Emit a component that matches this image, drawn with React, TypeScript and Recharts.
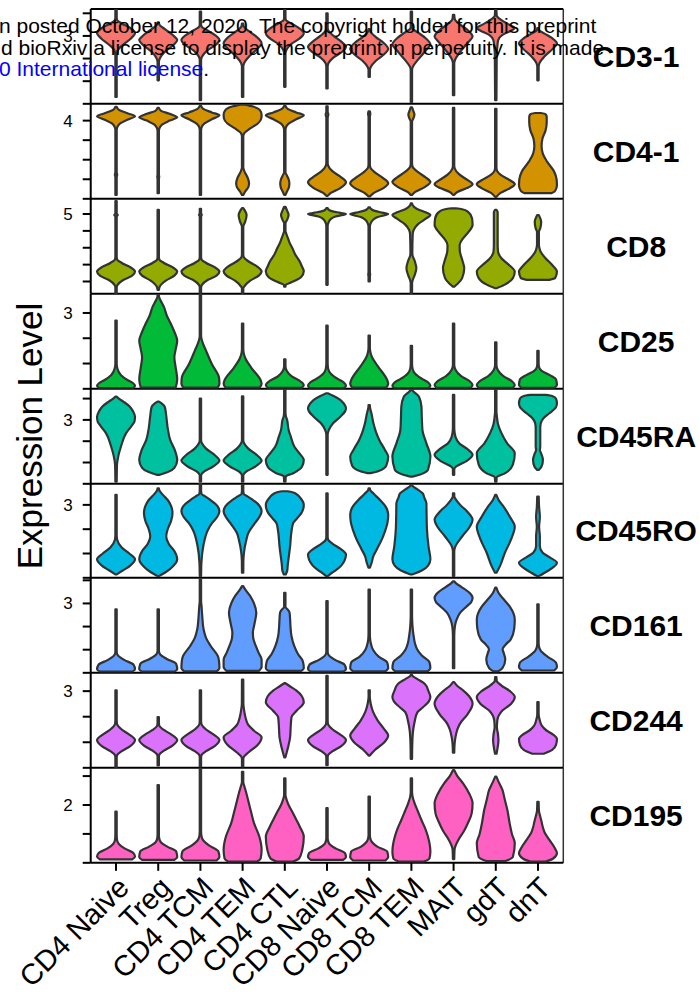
import React from 'react';
import { ScatterChart, Scatter, XAxis, YAxis, ReferenceLine } from 'recharts';

type Knot = [number, number]; // [expression value, relative half-width 0..1]
type Pt = { x: number; y: number };

const FONT = '"Liberation Sans", Arial, Helvetica, sans-serif';
const t = 0.035;

const CATEGORIES = ['CD4 Naive', 'Treg', 'CD4 TCM', 'CD4 TEM', 'CD4 CTL', 'CD8 Naive', 'CD8 TCM', 'CD8 TEM', 'MAIT', 'gdT', 'dnT'];
const MARKERS = ['CD3-1', 'CD4-1', 'CD8', 'CD25', 'CD45RA', 'CD45RO', 'CD161', 'CD244', 'CD195'];
const COLORS = ['#F8766D', '#D39200', '#93AA00', '#00BA38', '#00C19F', '#00B9E3', '#619CFF', '#DB72FB', '#FF61C3'];
const Y_DOMAINS: [number, number][] = [[0, 4.19], [0, 4.85], [0.27, 5.89], [0, 3.75], [0, 4.45], [0, 3.9], [0, 4.1], [0, 3.71], [0, 3.28]];
const Y_TICKS = [[0, 1, 2, 3, 4], [0, 1, 2, 3, 4], [1, 2, 3, 4, 5], [0, 1, 2, 3], [0, 1, 2, 3, 4], [0, 1, 2, 3], [0, 1, 2, 3, 4], [0, 1, 2, 3], [0, 1, 2, 3]];
const Y_LABELED = [3, 4, 5, 3, 3, 3, 3, 3, 2];

const CD3_1: Knot[][] = [
  [[0.3, t], [2.1, t], [2.35, 0.08], [2.6, 0.35], [2.9, 0.8], [3.12, 1], [3.35, 0.75], [3.55, 0.3], [3.7, 0.06], [3.8, t], [4.16, t]],
  [[1.04, t], [1.85, t], [2.0, 0.08], [2.3, 0.35], [2.6, 0.8], [2.82, 1], [3.05, 0.75], [3.3, 0.35], [3.5, 0.06], [3.6, t]],
  [[0.16, t], [1.95, t], [2.08, 0.08], [2.35, 0.35], [2.6, 0.8], [2.82, 1], [3.05, 0.75], [3.25, 0.35], [3.42, 0.06], [3.5, t], [4.08, t]],
  [[0.3, t], [1.65, t], [1.8, 0.08], [2.1, 0.35], [2.45, 0.8], [2.67, 1], [2.95, 0.75], [3.2, 0.35], [3.42, 0.06], [3.55, t]],
  [[0.75, t], [2.2, t], [2.38, 0.08], [2.65, 0.35], [2.9, 0.8], [3.12, 1], [3.35, 0.75], [3.55, 0.35], [3.7, 0.06], [3.8, t], [4.16, t]],
  [[0.68, t], [1.65, t], [1.8, 0.08], [2.05, 0.35], [2.3, 0.8], [2.52, 1], [2.75, 0.75], [3.0, 0.35], [3.25, 0.06], [3.35, t], [4.0, t]],
  [[1.19, t], [1.5, t], [1.62, 0.08], [1.9, 0.35], [2.2, 0.8], [2.42, 1], [2.7, 0.75], [2.95, 0.35], [3.2, 0.06], [3.3, t]],
  [[0.08, t], [1.5, t], [1.64, 0.08], [1.95, 0.35], [2.4, 0.8], [2.62, 1], [2.9, 0.75], [3.15, 0.35], [3.32, 0.06], [3.4, t], [4.08, t]],
  [[0.38, t], [1.8, t], [1.95, 0.08], [2.3, 0.35], [2.75, 0.8], [2.97, 1], [3.25, 0.75], [3.5, 0.35], [3.75, 0.06], [3.93, t]],
  [[0.16, t], [2.2, 0.05], [2.5, 0.08], [2.8, 0.12], [3.05, 0.35], [3.25, 0.85], [3.35, 1], [3.5, 0.7], [3.7, 0.3], [3.9, 0.05], [4.16, t]],
  [[1.04, t], [1.65, t], [1.8, 0.08], [2.1, 0.35], [2.45, 0.8], [2.67, 1], [2.9, 0.75], [3.1, 0.35], [3.25, 0.06], [3.35, t]],
];

const CD4_1: Knot[][] = [
  [[0.2, t], [1.1, t], [1.23, 0.06], [1.36, t], [3.5, t], [3.65, 0.06], [3.85, 0.2], [4.05, 0.6], [4.22, 1], [4.38, 0.6], [4.55, 0.15], [4.7, t]],
  [[0.29, t], [1.0, t], [1.12, 0.05], [1.25, t], [3.45, t], [3.6, 0.06], [3.8, 0.2], [4.0, 0.6], [4.17, 1], [4.35, 0.6], [4.5, 0.15], [4.65, t]],
  [[0.2, t], [3.5, t], [3.65, 0.06], [3.85, 0.2], [4.07, 0.6], [4.27, 1], [4.42, 0.6], [4.6, 0.15], [4.75, t]],
  [[0.2, t], [0.35, 0.12], [0.6, 0.3], [0.8, 0.34], [1.05, 0.28], [1.35, 0.12], [1.6, t], [3.2, t], [3.35, 0.08], [3.6, 0.4], [3.85, 0.8], [4.1, 0.98], [4.3, 1], [4.55, 0.9], [4.72, 0.55], [4.82, 0.12]],
  [[0.2, t], [0.35, 0.1], [0.6, 0.22], [0.8, 0.24], [1.0, 0.2], [1.25, 0.08], [1.35, t], [3.5, t], [3.65, 0.06], [3.85, 0.2], [4.07, 0.6], [4.27, 1], [4.42, 0.6], [4.6, 0.15], [4.75, t]],
  [[0.15, t], [0.3, 0.2], [0.55, 0.7], [0.85, 1], [1.1, 0.75], [1.4, 0.3], [1.7, 0.06], [1.85, t], [4.15, t], [4.31, 0.07], [4.45, t], [4.73, t]],
  [[0.12, t], [0.3, 0.25], [0.55, 0.75], [0.8, 1], [1.05, 0.75], [1.35, 0.3], [1.6, 0.06], [1.75, t], [4.2, t], [4.35, 0.06], [4.48, t]],
  [[0.2, t], [0.35, 0.2], [0.6, 0.7], [0.86, 1], [1.1, 0.75], [1.4, 0.3], [1.65, 0.06], [1.8, t], [3.96, t], [4.1, 0.1], [4.31, 0.16], [4.5, 0.1], [4.68, t]],
  [[0.2, t], [0.35, 0.2], [0.55, 0.7], [0.75, 1], [0.95, 0.75], [1.25, 0.3], [1.55, 0.06], [1.7, t], [4.65, t]],
  [[0.1, t], [0.3, 0.25], [0.55, 0.75], [0.75, 1], [0.95, 0.75], [1.2, 0.3], [1.45, 0.06], [1.6, t], [4.6, t]],
  [[0.29, 0.7], [0.4, 0.9], [0.7, 1], [1.0, 0.98], [1.4, 0.85], [1.9, 0.48], [2.3, 0.26], [2.7, 0.19], [3.1, 0.24], [3.5, 0.4], [3.9, 0.46], [4.2, 0.46], [4.33, 0.4], [4.39, 0.15]],
];

const CD8: Knot[][] = [
  [[0.27, t], [0.65, t], [0.8, 0.08], [1.1, 0.4], [1.35, 0.85], [1.59, 1], [1.85, 0.75], [2.1, 0.3], [2.3, 0.06], [2.45, t], [4.85, t], [4.94, 0.09], [5.03, t], [5.77, t]],
  [[0.5, t], [0.7, 0.08], [1.05, 0.4], [1.35, 0.85], [1.59, 1], [1.85, 0.75], [2.1, 0.3], [2.3, 0.06], [2.45, t], [5.24, t]],
  [[0.27, t], [0.65, t], [0.8, 0.08], [1.1, 0.4], [1.35, 0.85], [1.59, 1], [1.85, 0.75], [2.1, 0.3], [2.3, 0.06], [2.45, t], [4.85, t], [4.95, 0.07], [5.05, t], [5.3, t]],
  [[0.27, t], [0.6, t], [0.7, 0.08], [1.05, 0.4], [1.35, 0.85], [1.59, 1], [1.9, 0.75], [2.2, 0.3], [2.45, 0.06], [2.6, t], [4.25, t], [4.5, 0.12], [4.94, 0.21], [5.2, 0.12], [5.35, t]],
  [[0.7, t], [0.8, 0.05], [0.95, 0.35], [1.25, 0.85], [1.6, 1], [1.9, 0.9], [2.2, 0.78], [2.6, 0.55], [2.97, 0.4], [3.3, 0.25], [3.56, 0.17], [3.85, 0.07], [4.0, t], [4.45, t], [4.65, 0.12], [4.95, 0.2], [5.2, 0.12], [5.43, t]],
  [[0.8, t], [4.3, t], [4.5, 0.08], [4.7, 0.2], [4.85, 0.45], [4.95, 0.85], [5.0, 1], [5.07, 0.7], [5.17, 0.25], [5.28, 0.07], [5.35, t]],
  [[1.0, t], [1.3, t], [1.4, 0.05], [1.55, t], [4.25, t], [4.45, 0.08], [4.65, 0.2], [4.82, 0.45], [4.94, 0.85], [5.0, 1], [5.08, 0.7], [5.2, 0.25], [5.33, 0.07], [5.4, t]],
  [[0.27, t], [0.9, t], [1.05, 0.06], [1.4, 0.18], [1.79, 0.26], [2.2, 0.18], [2.55, 0.06], [2.7, 0.05], [3.8, 0.07], [4.05, 0.12], [4.4, 0.35], [4.75, 0.8], [4.94, 1], [5.1, 0.75], [5.3, 0.3], [5.5, 0.08], [5.63, t]],
  [[0.7, 0.04], [0.85, 0.2], [1.2, 0.45], [1.79, 0.56], [2.3, 0.45], [2.8, 0.33], [3.17, 0.32], [3.56, 0.5], [3.95, 0.8], [4.35, 1], [4.75, 0.97], [5.14, 0.75], [5.28, 0.45], [5.34, 0.12]],
  [[0.6, 0.04], [0.8, 0.45], [1.2, 0.9], [1.59, 1], [1.98, 0.7], [2.38, 0.3], [2.75, 0.12], [3.2, 0.1], [5.1, 0.1], [5.24, 0.04]],
  [[1.1, 0.6], [1.2, 0.9], [1.59, 1], [1.98, 0.75], [2.38, 0.4], [2.75, 0.15], [2.97, 0.08], [3.2, 0.05], [3.95, 0.05], [4.15, 0.12], [4.54, 0.17], [4.8, 0.1], [4.94, 0.04]],
];

const CD25: Knot[][] = [
  [[0.03, 0.9], [0.12, 1], [0.22, 0.9], [0.35, 0.6], [0.55, 0.25], [0.8, 0.07], [1.0, t], [2.7, t]],
  [[0.05, 0.92], [0.38, 1], [0.84, 0.92], [1.24, 0.85], [1.6, 0.93], [1.91, 1], [2.2, 0.88], [2.58, 0.66], [2.9, 0.45], [3.24, 0.3], [3.5, 0.12], [3.65, 0.04], [3.72, t]],
  [[0.05, 0.9], [0.2, 1], [0.44, 0.98], [0.98, 0.6], [1.5, 0.3], [1.91, 0.08], [2.1, t], [3.74, t]],
  [[0.05, 0.9], [0.2, 1], [0.34, 0.95], [0.84, 0.45], [1.2, 0.15], [1.44, 0.05], [1.6, t], [2.58, t]],
  [[0.04, 0.9], [0.15, 1], [0.28, 0.85], [0.5, 0.35], [0.71, 0.1], [0.9, t], [1.17, t]],
  [[0.03, 0.9], [0.12, 1], [0.24, 0.9], [0.4, 0.55], [0.6, 0.2], [0.8, 0.06], [1.0, t], [2.5, t]],
  [[0.05, 0.9], [0.2, 1], [0.34, 0.95], [0.9, 0.45], [1.25, 0.15], [1.5, 0.05], [1.65, t], [2.1, t]],
  [[0.03, 0.9], [0.12, 1], [0.24, 0.9], [0.4, 0.55], [0.6, 0.2], [0.8, 0.06], [1.0, t], [1.7, t]],
  [[0.04, 0.9], [0.15, 1], [0.3, 0.85], [0.5, 0.4], [0.75, 0.1], [0.95, t], [2.58, t]],
  [[0.04, 0.9], [0.15, 1], [0.3, 0.85], [0.5, 0.4], [0.75, 0.1], [0.95, t], [1.84, t]],
  [[0.04, 0.85], [0.15, 1], [0.37, 0.95], [0.55, 0.6], [0.71, 0.2], [0.85, 0.06], [1.0, t], [1.5, t]],
];

const CD45RA: Knot[][] = [
  [[0.1, t], [0.9, 0.05], [1.3, 0.12], [1.75, 0.26], [2.38, 0.53], [2.7, 0.8], [2.92, 0.97], [3.15, 1], [3.4, 0.9], [3.62, 0.73], [3.85, 0.4], [4.0, 0.15], [4.09, 0.04]],
  [[0.42, 0.05], [0.55, 0.5], [0.75, 0.85], [1.12, 1], [1.59, 0.87], [2.06, 0.63], [2.6, 0.5], [3.2, 0.42], [3.6, 0.35], [3.78, 0.18], [3.86, 0.04]],
  [[0.1, t], [0.4, t], [0.55, 0.15], [0.8, 0.65], [1.09, 1], [1.35, 0.75], [1.65, 0.3], [1.9, 0.08], [2.05, t], [4.0, t]],
  [[0.1, t], [0.4, t], [0.55, 0.15], [0.8, 0.65], [1.09, 1], [1.35, 0.75], [1.65, 0.3], [1.9, 0.08], [2.05, t], [4.1, t]],
  [[0.1, t], [0.35, 0.05], [0.5, 0.45], [0.8, 0.9], [1.12, 1], [1.45, 0.75], [1.75, 0.5], [2.2, 0.32], [2.53, 0.2], [3.0, 0.12], [3.2, 0.05], [3.4, t], [4.4, t]],
  [[0.42, t], [2.3, t], [2.53, 0.1], [2.85, 0.33], [3.15, 0.7], [3.4, 0.95], [3.55, 1], [3.75, 0.9], [3.94, 0.7], [4.12, 0.35], [4.25, 0.04]],
  [[0.5, 0.08], [0.6, 0.5], [0.85, 0.9], [1.28, 1], [1.59, 0.83], [2.06, 0.53], [2.45, 0.35], [2.85, 0.22], [3.3, 0.12], [3.6, 0.04], [3.7, t]],
  [[0.34, 0.05], [0.45, 0.5], [0.65, 0.87], [1.28, 1], [1.9, 0.79], [2.53, 0.58], [3.1, 0.55], [3.62, 0.53], [4.09, 0.4], [4.3, 0.15], [4.4, 0.03]],
  [[0.42, t], [0.7, t], [0.8, 0.12], [1.05, 0.65], [1.36, 1], [1.65, 0.7], [1.9, 0.3], [2.2, 0.1], [2.53, 0.04], [2.7, t], [4.17, t]],
  [[0.1, t], [0.3, 0.05], [0.5, 0.5], [0.9, 0.9], [1.44, 1], [1.9, 0.6], [2.38, 0.3], [2.8, 0.12], [3.15, 0.06], [3.4, t], [4.4, t]],
  [[0.65, 0.04], [0.8, 0.18], [1.12, 0.26], [1.4, 0.18], [1.59, 0.1], [1.75, 0.12], [2.6, 0.12], [2.85, 0.15], [3.08, 0.29], [3.31, 0.6], [3.6, 0.95], [3.78, 1], [4.0, 0.95], [4.12, 0.75], [4.17, 0.4]],
];

const CD45RO: Knot[][] = [
  [[0.14, t], [0.3, 0.35], [0.5, 0.75], [0.76, 1], [1.0, 0.7], [1.25, 0.3], [1.57, 0.06], [1.75, t], [3.41, t]],
  [[0.07, 0.04], [0.35, 0.6], [0.76, 1], [1.1, 0.85], [1.4, 0.55], [1.7, 0.42], [2.0, 0.5], [2.35, 0.68], [2.66, 0.75], [2.95, 0.68], [3.2, 0.5], [3.45, 0.2], [3.62, 0.05], [3.68, t]],
  [[0.07, t], [0.6, 0.05], [1.3, 0.15], [1.98, 0.4], [2.25, 0.61], [2.5, 0.88], [2.73, 1], [2.95, 0.9], [3.2, 0.53], [3.35, 0.25], [3.45, 0.06], [3.6, t], [3.9, t]],
  [[0.21, t], [0.7, 0.04], [1.09, 0.08], [1.5, 0.18], [1.84, 0.3], [2.2, 0.6], [2.5, 0.88], [2.73, 1], [2.95, 0.9], [3.2, 0.55], [3.35, 0.25], [3.45, 0.06], [3.6, t], [3.82, t]],
  [[0.14, 0.05], [0.3, 0.13], [0.48, 0.15], [1.3, 0.28], [1.9, 0.35], [2.25, 0.44], [2.45, 0.65], [2.66, 0.87], [3.0, 1], [3.3, 0.8], [3.45, 0.6], [3.52, 0.4], [3.56, 0.15]],
  [[0.07, 0.04], [0.25, 0.35], [0.5, 0.75], [0.96, 1], [1.2, 0.7], [1.4, 0.3], [1.57, 0.06], [1.7, t], [3.47, t]],
  [[0.42, 0.04], [0.6, 0.12], [0.89, 0.22], [1.2, 0.42], [1.57, 0.66], [1.91, 0.83], [2.3, 0.97], [2.6, 1], [2.95, 0.85], [3.2, 0.57], [3.45, 0.25], [3.62, 0.05], [3.68, t]],
  [[0.14, 0.04], [0.3, 0.55], [0.5, 0.88], [0.76, 1], [1.3, 0.9], [2.0, 0.82], [2.6, 0.8], [3.07, 0.79], [3.3, 0.68], [3.47, 0.6], [3.65, 0.3], [3.78, 0.06], [3.82, t]],
  [[0.07, t], [1.1, t], [1.3, 0.1], [1.7, 0.45], [2.1, 0.85], [2.39, 1], [2.7, 0.75], [3.0, 0.35], [3.27, 0.08], [3.35, t], [3.47, t]],
  [[0.21, 0.04], [0.48, 0.22], [1.03, 0.48], [1.57, 0.8], [2.11, 1], [2.5, 0.75], [2.93, 0.41], [3.2, 0.15], [3.41, 0.03]],
  [[0.07, 0.04], [0.3, 0.55], [0.62, 1], [0.85, 0.6], [1.03, 0.25], [1.3, 0.1], [1.7, 0.1], [2.1, 0.06], [2.5, 0.1], [2.9, 0.06], [3.34, 0.04]],
];

const CD161: Knot[][] = [
  [[0.05, 0.85], [0.15, 1], [0.35, 0.92], [0.55, 0.45], [0.75, 0.1], [0.9, t], [2.74, t]],
  [[0.05, 0.85], [0.15, 1], [0.38, 0.95], [0.6, 0.45], [0.8, 0.1], [0.95, t], [2.74, t]],
  [[0.06, 0.85], [0.2, 1], [0.5, 0.98], [0.72, 0.92], [1.15, 0.55], [1.5, 0.3], [1.87, 0.17], [2.4, 0.1], [2.88, 0.06], [3.1, t], [4.04, t]],
  [[0.08, 0.85], [0.25, 1], [0.58, 1], [0.85, 0.85], [1.15, 0.7], [1.5, 0.56], [1.74, 0.54], [2.1, 0.62], [2.6, 0.72], [3.0, 0.6], [3.32, 0.4], [3.55, 0.18], [3.75, 0.03]],
  [[0.08, 0.85], [0.2, 1], [0.5, 0.95], [0.8, 0.7], [1.15, 0.5], [1.59, 0.35], [2.0, 0.3], [2.31, 0.28], [2.6, 0.25], [2.74, 0.15], [2.85, t], [3.46, t]],
  [[0.05, 0.85], [0.15, 1], [0.35, 0.92], [0.55, 0.45], [0.75, 0.1], [0.9, t], [3.1, t]],
  [[0.06, 0.85], [0.2, 1], [0.44, 0.95], [0.7, 0.5], [1.0, 0.2], [1.3, 0.08], [1.45, 0.05], [1.7, t], [3.6, t]],
  [[0.06, 0.85], [0.2, 1], [0.46, 0.95], [0.75, 0.55], [1.02, 0.3], [1.3, 0.18], [1.59, 0.12], [2.0, 0.06], [2.31, 0.04], [2.5, t], [3.6, t]],
  [[0.2, t], [1.6, t], [2.02, 0.07], [2.28, 0.15], [2.6, 0.35], [2.86, 0.67], [3.05, 0.92], [3.25, 1], [3.45, 0.85], [3.72, 0.4], [3.88, 0.12], [3.96, 0.03]],
  [[0.06, 0.12], [0.2, 0.35], [0.58, 0.5], [0.85, 0.42], [1.02, 0.36], [1.2, 0.5], [1.45, 0.79], [1.9, 0.97], [2.31, 1], [2.86, 0.74], [3.15, 0.45], [3.45, 0.15], [3.68, 0.03]],
  [[0.1, 0.85], [0.25, 1], [0.44, 0.95], [0.7, 0.5], [0.95, 0.15], [1.15, 0.05], [1.3, t], [2.96, t]],
];

const CD244: Knot[][] = [
  [[0.02, t], [0.4, t], [0.48, 0.05], [0.65, 0.3], [0.85, 0.75], [1.09, 1], [1.3, 0.7], [1.5, 0.3], [1.72, 0.05], [1.85, t], [3.03, t]],
  [[0.09, t], [0.42, t], [0.5, 0.05], [0.67, 0.3], [0.87, 0.75], [1.09, 1], [1.3, 0.7], [1.48, 0.3], [1.66, 0.05], [1.78, t], [1.98, t]],
  [[0.05, t], [0.4, t], [0.48, 0.05], [0.65, 0.3], [0.85, 0.75], [1.09, 1], [1.3, 0.7], [1.5, 0.3], [1.72, 0.05], [1.85, t], [3.03, t]],
  [[0.05, t], [0.33, t], [0.41, 0.05], [0.6, 0.3], [0.9, 0.8], [1.2, 1], [1.45, 0.6], [1.7, 0.28], [1.98, 0.15], [2.25, 0.08], [2.51, 0.04], [3.45, t]],
  [[0.41, 0.03], [0.6, 0.1], [0.8, 0.17], [1.2, 0.28], [1.6, 0.31], [1.98, 0.35], [2.24, 0.63], [2.57, 1], [2.8, 0.9], [3.03, 0.6], [3.2, 0.25], [3.31, 0.03]],
  [[0.1, t], [0.4, t], [0.48, 0.05], [0.65, 0.3], [0.85, 0.75], [1.09, 1], [1.3, 0.7], [1.5, 0.3], [1.72, 0.05], [1.85, t], [3.6, t]],
  [[0.48, 0.03], [0.7, 0.3], [1.0, 0.8], [1.26, 1], [1.55, 0.75], [1.85, 0.45], [2.2, 0.2], [2.51, 0.08], [2.8, 0.03], [3.03, t]],
  [[0.35, t], [1.0, 0.05], [1.46, 0.09], [1.8, 0.17], [2.18, 0.32], [2.37, 0.61], [2.6, 0.92], [2.77, 1], [3.0, 0.9], [3.29, 0.7], [3.48, 0.3], [3.6, 0.05], [3.64, t]],
  [[0.59, t], [0.9, 0.05], [1.2, 0.1], [1.5, 0.2], [1.72, 0.33], [2.11, 0.75], [2.51, 1], [2.8, 0.82], [3.03, 0.5], [3.2, 0.2], [3.35, 0.03]],
  [[0.55, 0.04], [0.8, 0.1], [1.06, 0.14], [1.3, 0.12], [1.59, 0.06], [1.85, 0.08], [2.24, 0.35], [2.5, 0.8], [2.77, 1], [3.0, 0.75], [3.22, 0.3], [3.4, 0.05], [3.55, t]],
  [[0.55, 0.3], [0.7, 0.75], [0.9, 0.95], [1.13, 1], [1.3, 0.8], [1.46, 0.45], [1.65, 0.2], [1.85, 0.1], [2.05, 0.04], [2.2, t], [2.57, t]],
];

const CD195: Knot[][] = [
  [[0.12, 0.85], [0.22, 1], [0.35, 0.9], [0.5, 0.45], [0.65, 0.15], [0.8, 0.05], [1.0, t], [1.77, t]],
  [[0.1, 0.85], [0.2, 1], [0.39, 0.95], [0.55, 0.5], [0.7, 0.15], [0.85, 0.05], [1.0, t], [2.69, t]],
  [[0.08, 0.85], [0.2, 1], [0.39, 0.95], [0.6, 0.45], [0.8, 0.12], [0.95, 0.05], [1.1, t], [3.26, t]],
  [[0.04, 0.75], [0.15, 0.95], [0.45, 1], [0.91, 0.88], [1.37, 0.6], [1.83, 0.42], [2.06, 0.33], [2.4, 0.2], [2.63, 0.1], [2.8, t], [3.15, t]],
  [[0.04, 0.4], [0.15, 0.75], [0.45, 0.92], [0.91, 1], [1.25, 0.79], [1.5, 0.6], [1.71, 0.44], [2.0, 0.2], [2.17, 0.1], [2.35, t], [2.92, t]],
  [[0.1, 0.85], [0.2, 1], [0.33, 0.95], [0.5, 0.45], [0.68, 0.1], [0.85, t], [1.89, t]],
  [[0.08, 0.85], [0.2, 1], [0.39, 0.95], [0.55, 0.45], [0.79, 0.08], [0.95, t], [2.29, t]],
  [[0.04, 0.65], [0.15, 0.95], [0.39, 1], [0.91, 0.87], [1.2, 0.72], [1.48, 0.53], [1.8, 0.33], [2.06, 0.17], [2.3, 0.06], [2.45, t], [2.92, t]],
  [[0.13, t], [0.45, 0.05], [0.79, 0.25], [1.1, 0.55], [1.37, 0.75], [1.7, 0.95], [2.06, 1], [2.4, 0.82], [2.75, 0.5], [3.0, 0.2], [3.21, 0.03]],
  [[0.06, 0.5], [0.2, 0.9], [0.68, 1], [1.0, 0.85], [1.37, 0.73], [1.83, 0.61], [2.2, 0.47], [2.52, 0.35], [2.8, 0.15], [2.98, 0.03]],
  [[0.04, 0.4], [0.15, 0.8], [0.33, 1], [0.55, 0.85], [0.79, 0.6], [1.05, 0.35], [1.25, 0.25], [1.45, 0.18], [1.6, 0.12], [1.8, 0.05], [2.11, t]],
];

const PROFILES = [CD3_1, CD4_1, CD8, CD25, CD45RA, CD45RO, CD161, CD244, CD195];

// layout
const HALF = 0.45;
const TOP0 = 9.3;
const PANEL_H = 94.82;
const PAD = 3;
const XAXIS_H = 130;
const CHART_W = 709;
const LEFT_W = 90.7;
const RIGHT_W = 145.7;

function monoSide(p: Pt[]): string {
  const n = p.length;
  if (n < 2) return '';
  const h: number[] = [];
  const s: number[] = [];
  for (let i = 0; i < n - 1; i++) {
    h.push(p[i + 1].y - p[i].y);
    s.push(h[i] !== 0 ? (p[i + 1].x - p[i].x) / h[i] : 0);
  }
  const m: number[] = new Array(n).fill(0);
  for (let i = 1; i < n - 1; i++) {
    const s0 = s[i - 1];
    const s1 = s[i];
    const q = (s0 * h[i] + s1 * h[i - 1]) / (h[i - 1] + h[i]);
    m[i] = (Math.sign(s0) + Math.sign(s1)) * Math.min(Math.abs(s0), Math.abs(s1), 0.5 * Math.abs(q)) || 0;
  }
  if (n > 2) {
    m[0] = (3 * s[0] - m[1]) / 2;
    if (Math.sign(m[0]) !== Math.sign(s[0])) m[0] = 0;
    m[n - 1] = (3 * s[n - 2] - m[n - 2]) / 2;
    if (Math.sign(m[n - 1]) !== Math.sign(s[n - 2])) m[n - 1] = 0;
  } else {
    m[0] = s[0];
    m[1] = s[0];
  }
  let d = '';
  for (let i = 0; i < n - 1; i++) {
    const dy = h[i] / 3;
    d += ` C${p[i].x + m[i] * dy},${p[i].y + dy} ${p[i + 1].x - m[i + 1] * dy},${p[i + 1].y - dy} ${p[i + 1].x},${p[i + 1].y}`;
  }
  return d;
}

function violinPath(pts: Pt[]): string {
  if (!pts || pts.length < 4) return '';
  const n = Math.floor(pts.length / 2);
  const r = pts.slice(0, n);
  const l = pts.slice(n);
  return `M${r[0].x},${r[0].y}` + monoSide(r) + ` L${l[0].x},${l[0].y}` + monoSide(l) + ' Z';
}

const toPoints = (prof: Knot[], c: number) => {
  const right = prof.map(([v, w]) => ({ x: c + w * HALF, y: v }));
  const left = [...prof].reverse().map(([v, w]) => ({ x: c - w * HALF, y: v }));
  return [...right, ...left];
};

const EmptyShape = () => <g />;

const makeViolinLine = (color: string) => (props: any) => (
  <path d={violinPath(props.points)} fill={color} stroke="#333333" strokeWidth={2.2} strokeLinejoin="round" />
);

const XTick = (props: any) => {
  const { x, y, payload } = props;
  const label = CATEGORIES[Math.round(payload.value) - 1] ?? '';
  return (
    <text x={x} y={y} dy="0.71em" textAnchor="end" transform={`rotate(-45, ${x}, ${y})`} fontSize={29} fontFamily={FONT} fill="#000">
      {label}
    </text>
  );
};

function Panel({ k }: { k: number }) {
  const last = k === PROFILES.length - 1;
  const [lo, hi] = Y_DOMAINS[k];
  const color = COLORS[k];
  const height = PANEL_H + PAD + (last ? XAXIS_H : PAD);
  const lineFn = makeViolinLine(color);
  return (
    <div style={{ position: 'absolute', left: 0, top: TOP0 + k * PANEL_H - PAD }}>
      <ScatterChart width={CHART_W} height={height} margin={{ top: PAD, right: 0, bottom: last ? 0 : PAD, left: 0 }}>
        <XAxis
          type="number"
          dataKey="x"
          domain={[0.4, 11.6]}
          allowDataOverflow
          ticks={last ? [1, 2, 3, 4, 5, 6, 7, 8, 9, 10, 11] : undefined}
          interval={0}
          height={last ? XAXIS_H : 0}
          tickSize={8}
          tickMargin={4}
          axisLine={{ stroke: '#000', strokeWidth: 2 }}
          tickLine={last ? { stroke: '#000', strokeWidth: 2 } : false}
          tick={last ? (p: any) => <XTick {...p} /> : false}
        />
        <YAxis
          type="number"
          dataKey="y"
          domain={[lo, hi]}
          allowDataOverflow
          ticks={Y_TICKS[k]}
          interval={0}
          width={LEFT_W}
          tickSize={8}
          tickMargin={10}
          tickFormatter={(v: number) => (v === Y_LABELED[k] ? String(v) : '')}
          axisLine={{ stroke: '#000', strokeWidth: 2 }}
          tickLine={{ stroke: '#000', strokeWidth: 2 }}
          tick={{ fontSize: 17, fill: '#000', fontFamily: FONT }}
        />
        <YAxis
          yAxisId="name"
          orientation="right"
          type="number"
          domain={[0, 1]}
          width={RIGHT_W}
          axisLine={false}
          tickLine={false}
          tick={false}
          label={{ value: MARKERS[k], position: 'center', fontSize: 30, fontWeight: 'bold', fill: '#000', fontFamily: FONT }}
        />
        {k === 0 && <ReferenceLine y={hi} stroke="#000" strokeWidth={2} />}
        <ReferenceLine x={11.6} stroke="#333333" strokeWidth={1.5} />
        {PROFILES[k].map((prof, i) => (
          <Scatter
            key={i}
            data={toPoints(prof, i + 1)}
            line={lineFn}
            lineType="joint"
            shape={EmptyShape}
            isAnimationActive={false}
            legendType="none"
          />
        ))}
        {!last && <ReferenceLine y={lo} stroke="#000" strokeWidth={2} />}
      </ScatterChart>
    </div>
  );
}

export default function App() {
  return (
    <div style={{ position: 'absolute', left: 0, top: 0, width: 699, height: 996, overflow: 'hidden', background: '#fff', fontFamily: FONT }}>
      {PROFILES.map((_, k) => (
        <Panel key={k} k={k} />
      ))}
      <svg width={699} height={996} style={{ position: 'absolute', left: 0, top: 0, pointerEvents: 'none' }}>
        <text x={42} y={436} transform="rotate(-90, 42, 436)" textAnchor="middle" fontSize={35} fontFamily={FONT} fill="#000">
          Expression Level
        </text>
        <text x={-1} y={33} fontSize={21} fontFamily={FONT} fill="#000">
          n posted October 12, 2020. The copyright holder for this preprint
        </text>
        <text x={1} y={55} fontSize={21} fontFamily={FONT} fill="#000">
          d bioRxiv a license to display the preprint in perpetuity. It is made
        </text>
        <text x={-1} y={76} fontSize={21} fontFamily={FONT} fill="#000">
          <tspan fill="#0000FF">0 International license</tspan>.
        </text>
      </svg>
    </div>
  );
}
